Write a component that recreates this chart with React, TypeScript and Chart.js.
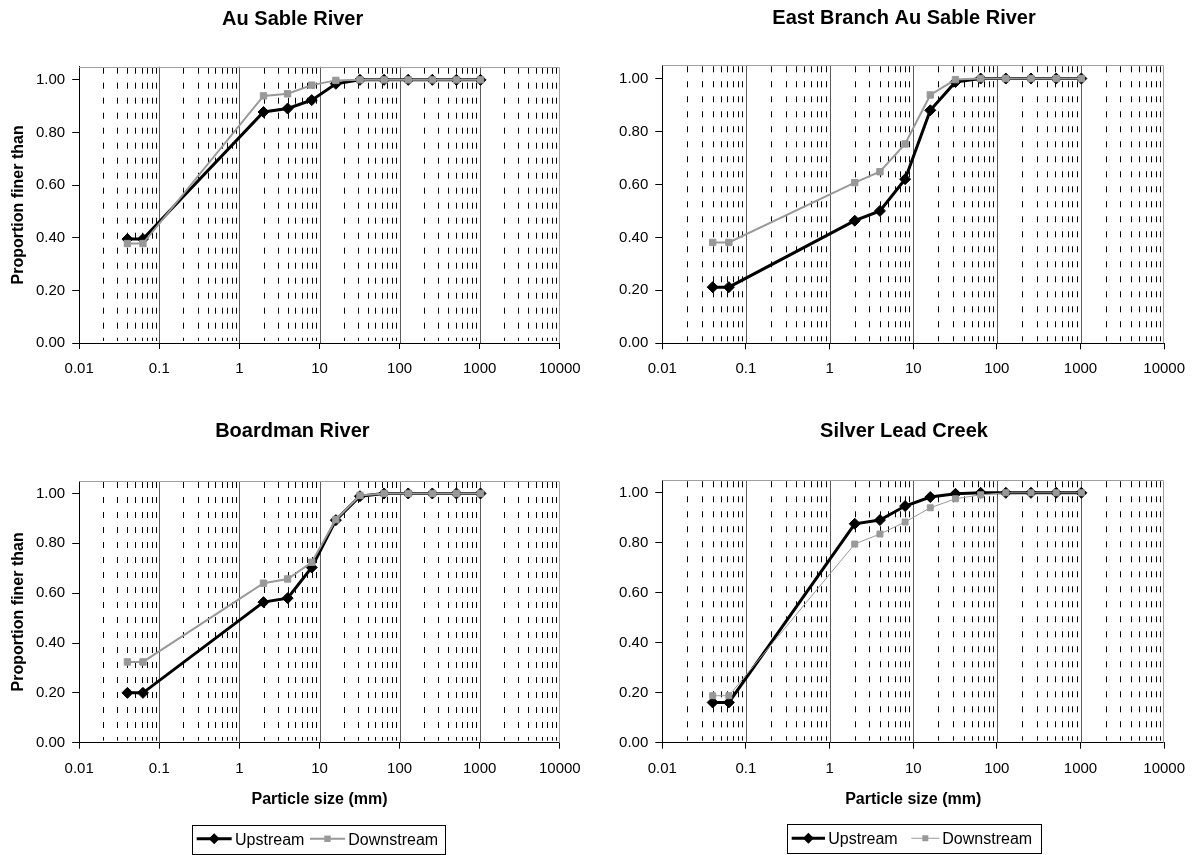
import React, { useEffect, useRef } from "react";
import { Chart, registerables } from "chart.js";

Chart.register(...registerables);

// ---------------- DATA ----------------
const PARTICLE_SIZES = [0.04, 0.0625, 2, 4, 8, 16, 32, 64, 128, 256, 512, 1024];

const AU_SABLE_UPSTREAM = [0.395, 0.395, 0.878, 0.891, 0.923, 0.985, 1, 1, 1, 1, 1, 1];
const AU_SABLE_DOWNSTREAM = [0.378, 0.378, 0.939, 0.947, 0.98, 0.998, 1, 1, 1, 1, 1, 1];

const EAST_BRANCH_UPSTREAM = [0.212, 0.212, 0.463, 0.5, 0.62, 0.88, 0.987, 1, 1, 1, 1, 1];
const EAST_BRANCH_DOWNSTREAM = [0.381, 0.381, 0.607, 0.648, 0.753, 0.938, 0.996, 1, 1, 1, 1, 1];

const BOARDMAN_UPSTREAM = [0.2, 0.2, 0.564, 0.58, 0.703, 0.893, 0.989, 1, 1, 1, 1, 1];
const BOARDMAN_DOWNSTREAM = [0.324, 0.324, 0.64, 0.657, 0.724, 0.895, 0.992, 1, 1, 1, 1, 1];

const SILVER_LEAD_UPSTREAM = [0.161, 0.161, 0.876, 0.891, 0.947, 0.983, 0.996, 1, 1, 1, 1, 1];
const SILVER_LEAD_DOWNSTREAM = [0.188, 0.188, 0.795, 0.835, 0.883, 0.94, 0.976, 0.992, 1, 1, 1, 1];

const X_MAJOR_TICKS = [0.01, 0.1, 1, 10, 100, 1000, 10000];
const X_TICK_LABELS = ["0.01", "0.1", "1", "10", "100", "1000", "10000"];
const Y_TICKS = [0, 0.2, 0.4, 0.6, 0.8, 1.0];
const SERIES_NAMES = ["Upstream", "Downstream"];
const X_TITLE = "Particle size (mm)";
const Y_TITLE = "Proportion finer than";

// minor (2..9) positions inside each decade
const MINOR_TICKS: number[] = [];
for (const d of X_MAJOR_TICKS.slice(0, -1)) {
  for (let m = 2; m <= 9; m++) MINOR_TICKS.push(+(d * m).toPrecision(6));
}
const ALL_X_TICKS = [...X_MAJOR_TICKS, ...MINOR_TICKS].sort((a, b) => a - b);

const FONT = '"Liberation Sans", Arial, sans-serif';
const GRAY = "#999999";

function majorIndex(v: number) {
  return X_MAJOR_TICKS.findIndex((m) => Math.abs(v - m) / m < 1e-6);
}

type Panel = {
  title: string;
  up: number[];
  down: number[];
  left: number;
  top: number;
  w: number;
  h: number;
  area: { left: number; top: number; right: number; bottom: number };
  titleX: number;
  titleBase: number;
  yTitle: boolean;
  xTitle: boolean;
  legend: null | { left: number; top: number; w: number; h: number; up: [number, number, number]; downLine: [number, number, number]; downText: number };
  thinDown: boolean;
};

const PANELS: Panel[] = [
  {
    title: "Au Sable River",
    up: AU_SABLE_UPSTREAM,
    down: AU_SABLE_DOWNSTREAM,
    left: 0, top: 0, w: 598, h: 420,
    area: { left: 79.2, top: 66.7, right: 559.8, bottom: 343 },
    titleX: 292.7, titleBase: 24.5,
    yTitle: true, xTitle: false, legend: null, thinDown: false,
  },
  {
    title: "East Branch Au Sable River",
    up: EAST_BRANCH_UPSTREAM,
    down: EAST_BRANCH_DOWNSTREAM,
    left: 598, top: 0, w: 598, h: 420,
    area: { left: 64.3, top: 65.3, right: 570.6, bottom: 343.3 },
    titleX: 306, titleBase: 24,
    yTitle: false, xTitle: false, legend: null, thinDown: false,
  },
  {
    title: "Boardman River",
    up: BOARDMAN_UPSTREAM,
    down: BOARDMAN_DOWNSTREAM,
    left: 0, top: 420, w: 598, h: 435,
    area: { left: 79.2, top: 61, right: 559.8, bottom: 322.7 },
    titleX: 292.4, titleBase: 17,
    yTitle: true, xTitle: true,
    legend: { left: 192.3, top: 404.5, w: 253.4, h: 28.5, up: [4.4, 39.4, 42.7], downLine: [117.7, 152.7, 135.2], downText: 156 },
    thinDown: false,
  },
  {
    title: "Silver Lead Creek",
    up: SILVER_LEAD_UPSTREAM,
    down: SILVER_LEAD_DOWNSTREAM,
    left: 598, top: 420, w: 598, h: 435,
    area: { left: 64.3, top: 60.3, right: 570.6, bottom: 322.7 },
    titleX: 306, titleBase: 17,
    yTitle: false, xTitle: true,
    legend: { left: 189.3, top: 404, w: 253.6, h: 28.5, up: [4.4, 37.7, 41], downLine: [124, 152, 138], downText: 155 },
    thinDown: true,
  },
];

function diamond(ctx: CanvasRenderingContext2D, x: number, y: number, r: number) {
  ctx.beginPath();
  ctx.moveTo(x - r, y);
  ctx.lineTo(x, y - r);
  ctx.lineTo(x + r, y);
  ctx.lineTo(x, y + r);
  ctx.closePath();
  ctx.fill();
}

function makePlugin(p: Panel) {
  return {
    id: "decor",
    beforeDatasetsDraw(chart: any) {
      const { ctx, chartArea: a } = chart;
      const x = chart.scales.x;
      ctx.save();
      ctx.lineWidth = 1;
      ctx.strokeStyle = "#000";
      ctx.setLineDash([6, 9]);
      for (const v of MINOR_TICKS) {
        const px = Math.round(x.getPixelForValue(v)) + 0.5;
        ctx.beginPath();
        ctx.moveTo(px, a.top + 1);
        ctx.lineTo(px, a.bottom - 2);
        ctx.stroke();
      }
      ctx.setLineDash([]);
      ctx.strokeStyle = "#5a5a5a";
      for (const v of X_MAJOR_TICKS.slice(1, -1)) {
        const px = Math.round(x.getPixelForValue(v)) + 0.5;
        ctx.beginPath();
        ctx.moveTo(px, a.top);
        ctx.lineTo(px, a.bottom);
        ctx.stroke();
      }
      ctx.strokeStyle = "#a0a0a0";
      ctx.beginPath();
      const t = Math.round(a.top) + 0.5;
      const r = Math.round(a.right) - 0.5;
      ctx.moveTo(a.left, t);
      ctx.lineTo(r, t);
      ctx.lineTo(r, a.bottom);
      ctx.stroke();
      ctx.restore();
    },
    afterDraw(chart: any) {
      const { ctx, chartArea: a } = chart;
      ctx.save();
      ctx.fillStyle = "#000";
      ctx.textBaseline = "alphabetic";
      ctx.textAlign = "center";
      ctx.font = `bold 20px ${FONT}`;
      ctx.fillText(p.title, p.titleX, p.titleBase);

      if (p.yTitle) {
        ctx.save();
        ctx.translate(23, (a.top + a.bottom) / 2);
        ctx.rotate(-Math.PI / 2);
        ctx.font = `bold 16px ${FONT}`;
        ctx.textAlign = "center";
        ctx.fillText(Y_TITLE, 0, 0);
        ctx.restore();
      }
      if (p.xTitle) {
        ctx.font = `bold 16px ${FONT}`;
        ctx.textAlign = "center";
        ctx.fillText(X_TITLE, (a.left + a.right) / 2, 384);
      }
      if (p.legend) {
        const L = p.legend;
        ctx.strokeStyle = "#000";
        ctx.lineWidth = 1;
        ctx.strokeRect(Math.round(L.left) + 0.5, Math.round(L.top) + 0.5, Math.round(L.w), Math.round(L.h));
        const cy = L.top + L.h / 2;
        // upstream
        ctx.lineWidth = 3;
        ctx.beginPath();
        ctx.moveTo(L.left + L.up[0], cy);
        ctx.lineTo(L.left + L.up[1], cy);
        ctx.stroke();
        ctx.fillStyle = "#000";
        diamond(ctx, L.left + (L.up[0] + L.up[1]) / 2, cy, 5.5);
        ctx.font = `16px ${FONT}`;
        ctx.textAlign = "left";
        ctx.fillText(SERIES_NAMES[0], L.left + L.up[2], cy + 6);
        // downstream
        ctx.strokeStyle = GRAY;
        ctx.lineWidth = p.thinDown ? 1 : 2;
        ctx.beginPath();
        ctx.moveTo(L.left + L.downLine[0], cy);
        ctx.lineTo(L.left + L.downLine[1], cy);
        ctx.stroke();
        ctx.fillStyle = GRAY;
        const s = p.thinDown ? 3 : 3.2;
        ctx.fillRect(L.left + L.downLine[2] - s, cy - s, 2 * s, 2 * s);
        ctx.fillStyle = "#000";
        ctx.fillText(SERIES_NAMES[1], L.left + L.downText, cy + 6);
      }
      ctx.restore();
    },
  };
}

function buildConfig(p: Panel): any {
  const toPts = (ys: number[]) => PARTICLE_SIZES.map((x, i) => ({ x, y: ys[i] }));
  return {
    type: "line",
    data: {
      datasets: [
        {
          label: SERIES_NAMES[0],
          data: toPts(p.up),
          borderColor: "#000",
          backgroundColor: "#000",
          borderWidth: 3,
          pointStyle: "rectRot",
          pointRadius: 5.5,
          pointBackgroundColor: "#000",
          pointBorderColor: "#000",
          pointBorderWidth: 1,
          tension: 0,
          order: 1,
        },
        {
          label: SERIES_NAMES[1],
          data: toPts(p.down),
          borderColor: GRAY,
          backgroundColor: GRAY,
          borderWidth: p.thinDown ? 1 : 2,
          pointStyle: "rect",
          pointRadius: p.thinDown ? 4.2 : 4.5,
          pointBackgroundColor: GRAY,
          pointBorderColor: GRAY,
          pointBorderWidth: 1,
          tension: 0,
          order: 0,
        },
      ],
    },
    options: {
      responsive: false,
      animation: false,
      devicePixelRatio: 1,
      layout: {
        padding: { top: p.area.top, right: p.w - p.area.right, bottom: 0, left: 0 },
      },
      plugins: {
        legend: { display: false },
        title: { display: false },
        tooltip: { enabled: false },
      },
      scales: {
        x: {
          type: "logarithmic",
          min: 0.01,
          max: 10000,
          afterBuildTicks: (scale: any) => {
            scale.ticks = ALL_X_TICKS.map((v) => ({ value: v, major: majorIndex(v) >= 0 }));
          },
          afterFit: (scale: any) => {
            scale.height = p.h - p.area.bottom;
          },
          ticks: {
            autoSkip: false,
            maxRotation: 0,
            minRotation: 0,
            padding: 11,
            color: "#000",
            font: { family: FONT, size: 15 },
            callback: (v: any) => {
              const i = majorIndex(Number(v));
              return i >= 0 ? X_TICK_LABELS[i] : "";
            },
          },
          grid: {
            display: true,
            drawOnChartArea: false,
            drawTicks: true,
            tickLength: 6,
            color: (c: any) => (c.tick && majorIndex(c.tick.value) >= 0 ? "#000" : "rgba(0,0,0,0)"),
          },
          border: { display: true, color: "#000", width: 1 },
        },
        y: {
          type: "linear",
          min: 0,
          max: 1.05,
          afterBuildTicks: (scale: any) => {
            scale.ticks = Y_TICKS.map((v) => ({ value: v }));
          },
          afterFit: (scale: any) => {
            scale.width = p.area.left;
          },
          ticks: {
            padding: 7,
            color: "#000",
            font: { family: FONT, size: 15 },
            callback: (v: any) => Number(v).toFixed(2),
          },
          grid: {
            display: true,
            drawOnChartArea: false,
            drawTicks: true,
            tickLength: 7,
            color: "#000",
          },
          border: { display: true, color: "#000", width: 1 },
        },
      },
    },
    plugins: [makePlugin(p)],
  };
}

function ChartPanel({ p }: { p: Panel }) {
  const ref = useRef<HTMLCanvasElement>(null);
  useEffect(() => {
    const chart = new Chart(ref.current as HTMLCanvasElement, buildConfig(p));
    return () => chart.destroy();
  }, [p]);
  return (
    <canvas
      ref={ref}
      width={p.w}
      height={p.h}
      style={{ position: "absolute", left: p.left, top: p.top, width: p.w, height: p.h }}
    />
  );
}

export default function App() {
  return (
    <div style={{ position: "absolute", left: 0, top: 0, width: 1196, height: 855, background: "#fff", overflow: "hidden" }}>
      {PANELS.map((p, i) => (
        <ChartPanel key={i} p={p} />
      ))}
    </div>
  );
}
